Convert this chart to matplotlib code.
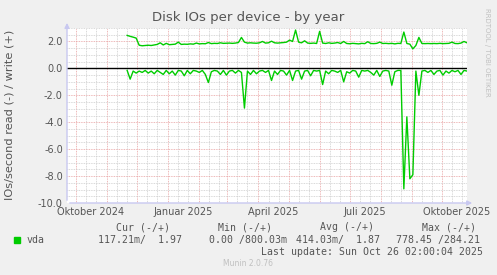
import numpy as np
import pandas as pd
import matplotlib
matplotlib.use("Agg")
import matplotlib.pyplot as plt

# daily-ish samples (every 3 days) starting 2024-11-21
start = "2024-11-21"
write_ops = [2.45, 2.38, 2.32, 2.25, 1.72, 1.68, 1.70, 1.72, 1.70, 1.74,
             1.78, 1.90, 1.74, 1.86, 1.76, 1.78, 1.80, 1.95, 1.78, 1.80,
             1.79, 1.82, 1.80, 1.88, 1.82, 1.84, 1.83, 1.92, 1.84, 1.86,
             1.85, 1.90, 1.86, 1.87, 1.88, 1.86, 1.88, 1.92, 2.30, 1.95,
             1.88, 1.90, 1.88, 1.87, 1.90, 2.00, 1.88, 1.90, 2.02, 1.90,
             1.88, 1.90, 1.92, 1.95, 2.10, 2.00, 2.85, 1.95, 1.90, 2.05,
             1.88, 1.86, 1.88, 1.85, 2.75, 1.88, 1.85, 1.90, 1.86, 1.88,
             1.92, 1.85, 2.00, 1.85, 1.83, 1.86, 1.84, 1.82, 1.86, 1.84,
             1.98, 1.85, 1.84, 1.86, 1.95, 1.85, 1.86, 1.84, 1.86, 1.82,
             1.86, 1.85, 2.70, 1.85, 1.80, 1.45, 1.70, 2.30, 1.85, 1.84,
             1.85, 1.84, 1.85, 1.84, 1.86, 1.84, 1.85, 1.86, 1.95, 1.85,
             1.84, 1.88, 2.00, 1.90]
read_ops = [0.15, 0.80, 0.20, 0.35, 0.20, 0.30, 0.15, 0.35, 0.20, 0.40,
            0.15, 0.30, 0.45, 0.15, 0.40, 0.20, 0.50, 0.15, 0.20, 0.55,
            0.15, 0.40, 0.15, 0.20, 0.30, 0.15, 0.45, 1.05, 0.25, 0.15,
            0.20, 0.45, 0.15, 0.50, 0.20, 0.15, 0.35, 0.15, 0.30, 2.95,
            0.20, 0.45, 0.15, 0.40, 0.20, 0.15, 0.30, 0.15, 0.90, 0.20,
            0.45, 0.15, 0.20, 0.50, 0.15, 0.90, 0.20, 0.15, 0.80, 0.20,
            0.15, 0.55, 0.15, 0.20, 0.15, 1.20, 0.20, 0.40, 0.15, 0.20,
            0.30, 0.15, 1.00, 0.25, 0.35, 0.15, 0.20, 0.65, 0.15, 0.20,
            0.15, 0.30, 0.50, 0.15, 0.60, 0.20, 0.15, 0.20, 1.25, 0.25,
            0.15, 0.15, 8.95, 3.60, 8.20, 7.90, 0.20, 2.00, 0.20, 0.15,
            0.30, 0.15, 0.45, 0.20, 0.15, 0.50, 0.20, 0.35, 0.15, 0.25,
            0.15, 0.45, 0.15, 0.20]

x_labels = ["Oktober 2024", "Januar 2025", "April 2025", "Juli 2025", "Oktober 2025"]
x_label_dates = ["2024-10-16", "2025-01-16", "2025-04-16", "2025-07-16", "2025-10-16"]

days = pd.date_range(start, periods=len(write_ops), freq="3D")

bg = "#f0f0f0"
green = "#00cc00"
red_grid = "#e8a0a0"
grey_grid = "#cccccc"
axis_col = "#c8c8f0"
txt = "#555555"

fig = plt.figure(figsize=(4.97, 2.75), dpi=100, facecolor=bg)
ax = fig.add_axes([67 / 497, 1 - 203 / 275, 400 / 497, 175 / 275])
ax.set_facecolor("white")

ax.set_xlim(pd.Timestamp("2024-09-22"), pd.Timestamp("2025-10-26"))
ax.set_ylim(-10, 3)

# grid
for d in pd.date_range("2024-10-01", "2025-10-01", freq="MS"):
    for off in (10, 20):
        ax.axvline(d + pd.Timedelta(days=off), color=grey_grid, ls=(0, (1, 1)), lw=0.6, zorder=0)
    ax.axvline(d, color=red_grid, ls=(0, (1, 1)), lw=0.6, zorder=0)
for v in np.arange(-10, 3.01, 0.5):
    if v % 2 == 0:
        ax.axhline(v, color=red_grid, ls=(0, (1, 1)), lw=0.6, zorder=0)
    else:
        ax.axhline(v, color=grey_grid, ls=(0, (1, 1)), lw=0.6, zorder=0)

ax.axhline(0, color="black", lw=1.0, zorder=2)
ax.plot(days, write_ops, color=green, lw=1.0, zorder=3)
ax.plot(days, [-r for r in read_ops], color=green, lw=1.0, zorder=3)

for s in ax.spines.values():
    s.set_visible(False)
ax.annotate("", xy=(0, 1.045), xytext=(0, 0), xycoords="axes fraction",
            arrowprops=dict(arrowstyle="-|>", color=axis_col, lw=1, mutation_scale=7))
ax.annotate("", xy=(1.02, 0), xytext=(0, 0), xycoords="axes fraction",
            arrowprops=dict(arrowstyle="-|>", color=axis_col, lw=1, mutation_scale=7))

ax.set_yticks(np.arange(-10, 2.1, 2))
ax.set_yticklabels([f"{v:.1f}" for v in np.arange(-10, 2.1, 2)])
ax.set_xticks(pd.to_datetime(x_label_dates))
ax.set_xticklabels(x_labels)
ax.tick_params(length=0, labelsize=7, labelcolor=txt, pad=3)

fig.text(10 / 497, 1 - 115 / 275, "IOs/second read (-) / write (+)", rotation=90,
         ha="center", va="center", fontsize=8.2, color=txt)
fig.text(248 / 497, 1 - 18 / 275, "Disk IOs per device - by year", ha="center", va="center",
         fontsize=9.5, color=txt)
fig.text(487 / 497, 1 - 52 / 275, "RRDTOOL / TOBI OETIKER", rotation=270, ha="center", va="center",
         fontsize=5, color="#c0c0c0")

# legend block
mono = dict(family="DejaVu Sans Mono", fontsize=7.1, color=txt, va="center")
for cx, h in zip([143, 245, 347, 449], ["Cur (-/+)", "Min (-/+)", "Avg (-/+)", "Max (-/+)"]):
    fig.text(cx / 497, 1 - 227 / 275, h, ha="center", **mono)
fig.patches.append(plt.Rectangle((14 / 497, 1 - 243 / 275), 6 / 497, 6 / 275,
                                 transform=fig.transFigure, color=green))
fig.text(27 / 497, 1 - 240 / 275, "vda", ha="left", **mono)
for x0, v in zip([98, 209, 296, 396], ["117.21m/  1.97", "0.00 /800.03m", "414.03m/  1.87", "778.45 /284.21"]):
    fig.text(x0 / 497, 1 - 240 / 275, v, ha="left", **mono)
fig.text(483 / 497, 1 - 252 / 275, "Last update: Sun Oct 26 02:00:04 2025", ha="right", **mono)
fig.text(248 / 497, 1 - 264 / 275, "Munin 2.0.76", ha="center", va="center", fontsize=5.5, color="#c0c0c0")

fig.savefig("out.png", dpi=100, facecolor=bg)
